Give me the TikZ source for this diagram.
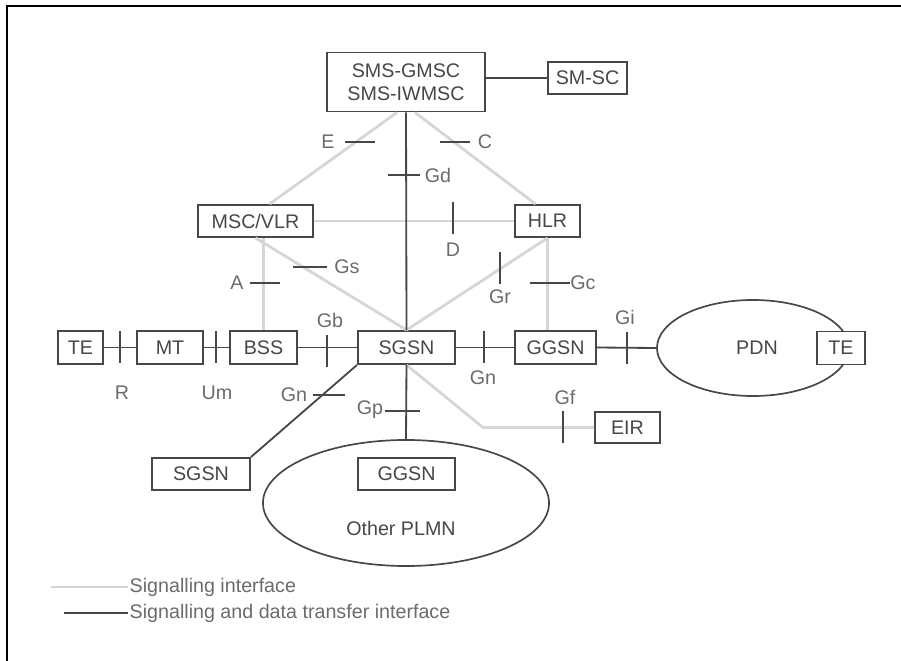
\documentclass[tikz,border=0pt]{standalone}
\usepackage{fontspec}
\setmainfont{Liberation Sans}
\usetikzlibrary{shapes.geometric}
\definecolor{siggray}{gray}{0.84}
\definecolor{inkgray}{gray}{0.28}
\definecolor{labgray}{gray}{0.42}
\tikzset{
  netbox/.style={draw=inkgray, line width=1.4pt, fill=white, inner sep=0pt,
    text=inkgray, font=\fontsize{14}{16.5}\selectfont, align=center},
  netcloud/.style={ellipse, draw=inkgray, line width=1.2pt, inner sep=0pt,
    text=inkgray, font=\fontsize{14}{16.5}\selectfont},
  sigline/.style={draw=siggray, line width=2pt},
  dataline/.style={draw=inkgray, line width=1.3pt},
  tickmark/.style={draw=inkgray, line width=1.2pt},
  iflabel/.style={text=labgray, inner sep=1pt, font=\fontsize{14}{16.5}\selectfont}
}
\newcommand{\myvtick}[2]
{
\draw[tickmark] (#1,#2-16) -- (#1,#2+16);
}
\newcommand{\myhtick}[3]
{
\draw[tickmark] (#1,#3) -- (#2,#3);
}

\begin{document}
\begin{tikzpicture}[x=0.025cm, y=-0.025cm]
  \useasboundingbox (0,0) rectangle (901,661);
  \draw[line width=1pt] (7,661) -- (7,6) -- (901,6);

  \node[netbox, minimum width=3.95cm, minimum height=1.475cm] (SMS) at (406,82) {SMS-GMSC\\SMS-IWMSC};
  \node[netbox, minimum width=1.975cm, minimum height=0.8cm] (SMSC) at (587.5,78) {SM-SC};
  \node[netbox, minimum width=2.875cm, minimum height=0.8cm] (MSCVLR) at (255.5,221) {MSC/VLR};
  \node[netbox, minimum width=1.625cm, minimum height=0.8cm] (HLR) at (547.5,221) {HLR};

  \node[netbox, minimum width=1.125cm, minimum height=0.825cm] (TEa) at (80.5,347.5) {TE};
  \node[netbox, minimum width=1.65cm, minimum height=0.825cm] (MT) at (170,347.5) {MT};
  \node[netbox, minimum width=1.675cm, minimum height=0.825cm] (BSS) at (263.5,347.5) {BSS};
  \node[netbox, minimum width=2.425cm, minimum height=0.825cm] (SGSN) at (406.5,347.5) {SGSN};
  \node[netbox, minimum width=2.025cm, minimum height=0.825cm] (GGSN) at (555.5,347.5) {GGSN};
  \node[netcloud, minimum width=4.8cm, minimum height=2.4cm] (PDN) at (753,348) {\hspace*{0.2cm}PDN};
  \node[netbox, minimum width=1.2cm, minimum height=0.825cm] (TEb) at (841,348) {TE};
  \node[netbox, minimum width=1.625cm, minimum height=0.775cm] (EIR) at (627.5,427.5) {EIR};

  \node[netcloud, minimum width=7.15cm, minimum height=3.15cm] (PLMN) at (406,503) {};
  \node[iflabel, text=inkgray] (PLMNname) at (401,528) {Other PLMN};
  \node[netbox, minimum width=2.45cm, minimum height=0.8cm] (SGSNb) at (201,474) {SGSN};
  \node[netbox, minimum width=2.425cm, minimum height=0.8cm] (GGSNb) at (406.5,474) {GGSN};

  \coordinate (EIRbend) at (483,427.5);
  \draw[sigline] ([xshift=-0.225cm]SMS.south) -- ([xshift=0.35cm]MSCVLR.north);
  \draw[sigline] ([xshift=0.225cm]SMS.south) -- ([xshift=-0.3cm]HLR.north);
  \draw[sigline] (MSCVLR.east) -- (HLR.west);
  \draw[sigline] (BSS.north) -- (BSS.north |- MSCVLR.south);
  \draw[sigline] (MSCVLR.south) -- (SGSN.north);
  \draw[sigline] (HLR.south) -- (SGSN.north);
  \draw[sigline] (HLR.south) -- (HLR.south |- GGSN.north);
  \draw[sigline] (SGSN.south) -- (EIRbend) -- (EIR.west);

  \draw[dataline] (SMSC.west) -- (SMSC.west -| SMS.east);
  \draw[dataline] (SMS.south) -- (SGSN.north);
  \draw[dataline] (TEa) -- (MT);
  \draw[dataline] (MT) -- (BSS);
  \draw[dataline] (BSS) -- (SGSN);
  \draw[dataline] (SGSN) -- (GGSN);
  \draw[dataline] (GGSN.east) -- (PDN.west);
  \draw[dataline] (SGSN.south west) -- (SGSNb.north east);
  \draw[dataline] (SGSN.south) -- (PLMN.north);

  \myhtick{345}{375}{142}
  \myhtick{440}{470}{142}
  \myhtick{388}{420}{175}
  \myvtick{453}{218}
  \myhtick{293}{327}{267}
  \myhtick{250}{280}{283}
  \myvtick{500}{268}
  \myhtick{530}{570}{283}
  \myvtick{120}{347.5}
  \myvtick{216}{347.5}
  \myvtick{327}{351}
  \myvtick{484}{347.5}
  \myvtick{627}{348}
  \myvtick{563}{427.5}
  \myhtick{313}{345}{395}
  \myhtick{385}{420}{411}

  \node[iflabel] (lE) at (328,142) {E};
  \node[iflabel] (lC) at (485,142) {C};
  \node[iflabel] (lGd) at (438,175) {Gd};
  \node[iflabel] (lD) at (453,250) {D};
  \node[iflabel] (lGs) at (347,267) {Gs};
  \node[iflabel] (lA) at (237,283) {A};
  \node[iflabel] (lGr) at (500,297) {Gr};
  \node[iflabel] (lGc) at (583,283) {Gc};
  \node[iflabel] (lR) at (122,393) {R};
  \node[iflabel] (lUm) at (217,393) {Um};
  \node[iflabel] (lGb) at (330,320) {Gb};
  \node[iflabel] (lGn) at (483,378) {Gn};
  \node[iflabel] (lGi) at (625,317) {Gi};
  \node[iflabel] (lGf) at (565,397) {Gf};
  \node[iflabel] (lGnb) at (294,395) {Gn};
  \node[iflabel] (lGp) at (370,410) {Gp};

  \node[iflabel, anchor=west] (lgsig) at (128,587) {Signalling interface};
  \node[iflabel, anchor=west] (lgdata) at (128,613) {Signalling and data transfer interface};
  \draw[sigline] (lgsig.west) -- ++(-77,0);
  \draw[dataline] (lgdata.west) -- ++(-64,0);
\end{tikzpicture}
\end{document}
